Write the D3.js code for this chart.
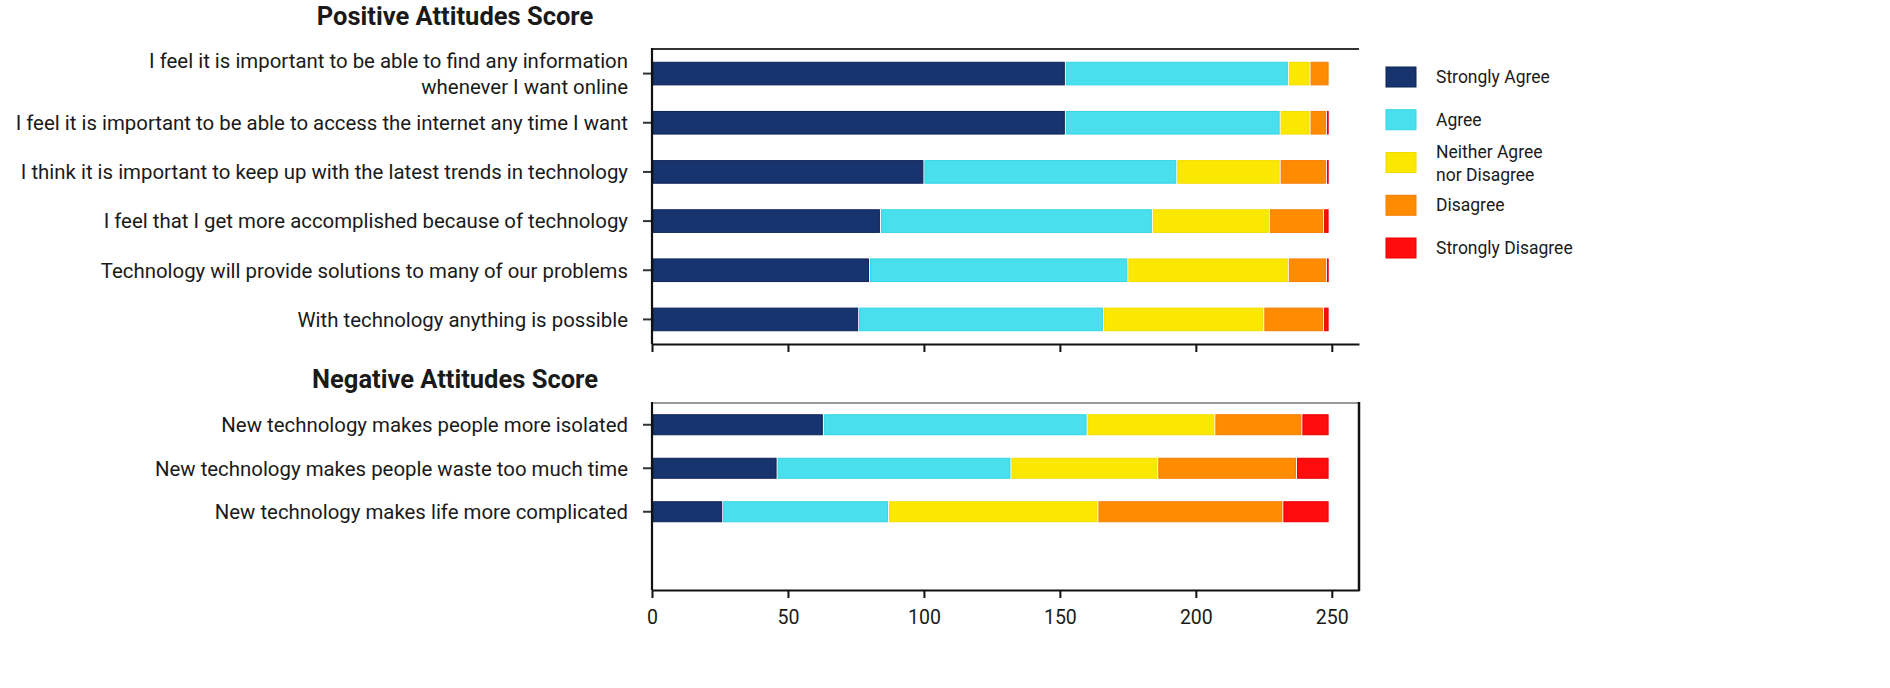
<!DOCTYPE html>
<html><head><meta charset="utf-8">
<script src="https://cdn.jsdelivr.net/npm/d3@7"></script>
<style>
html,body{margin:0;padding:0;background:#fff;}
svg text{font-family:Roboto,"Noto Sans",sans-serif;fill:#1a1a1a;}
</style></head>
<body>
<svg id="chart" width="1890" height="688"></svg>
<script>
// ---------- data ----------
const seriesNames = ["Strongly Agree", "Agree", "Neither Agree nor Disagree", "Disagree", "Strongly Disagree"];
const seriesColors = ["#17346f", "#4adfed", "#fbe800", "#ff8b00", "#ff0d0d"];
const seriesStrokes = ["#0d2258", "#2fd5e6", "#f2dc00", "#f57f00", "#e60000"];

const posCategories = [
  "I feel it is important to be able to find any information|whenever I want online",
  "I feel it is important to be able to access the internet any time I want",
  "I think it is important to keep up with the latest trends in technology",
  "I feel that I get more accomplished because of technology",
  "Technology will provide solutions to many of our problems",
  "With technology anything is possible"
];
const posStronglyAgree = [152, 152, 100, 84, 80, 76];
const posAgree         = [82, 79, 93, 100, 95, 90];
const posNeither       = [8, 11, 38, 43, 59, 59];
const posDisagree      = [7, 6, 17, 20, 14, 22];
const posStronglyDis   = [0, 1, 1, 2, 1, 2];

const negCategories = [
  "New technology makes people more isolated",
  "New technology makes people waste too much time",
  "New technology makes life more complicated"
];
const negStronglyAgree = [63, 46, 26];
const negAgree         = [97, 86, 61];
const negNeither       = [47, 54, 77];
const negDisagree      = [32, 51, 68];
const negStronglyDis   = [10, 12, 17];

const xTicks = [0, 50, 100, 150, 200, 250];
const titles = ["Positive Attitudes Score", "Negative Attitudes Score"];

// ---------- build ----------
const svg = d3.select("#chart");
const x = d3.scaleLinear().domain([0, 260]).range([652, 1359]);

function buildRows(cats, arrs) {
  return cats.map((c, i) => {
    let acc = 0;
    const segs = arrs.map((a, k) => {
      const s = {k, x0: acc, x1: acc + a[i]};
      acc += a[i];
      return s;
    });
    return {cat: c, segs};
  });
}

function panel(cats, arrs, top, bottom, rowsBottom, title, titleY, showLabels, topColor, topWidth) {
  const y = d3.scaleBand().domain(cats).range([top, rowsBottom])
    .paddingInner(0.54).paddingOuter(0.27);
  const rows = buildRows(cats, arrs);
  const g = svg.append("g");

  // frame top line
  g.append("line").attr("x1", x(0)).attr("x2", x(260)).attr("y1", top).attr("y2", top)
    .attr("stroke", topColor).attr("stroke-width", topWidth);

  // bars
  rows.forEach(r => {
    g.selectAll(null).data(r.segs.filter(s => s.x1 > s.x0)).join("rect")
      .attr("x", s => x(s.x0) + 1)
      .attr("width", s => Math.max(0.8, x(s.x1) - x(s.x0) - 2))
      .attr("y", y(r.cat))
      .attr("height", y.bandwidth())
      .attr("fill", s => seriesColors[s.k])
      .attr("stroke", s => seriesStrokes[s.k])
      .attr("stroke-width", 1);
  });

  // y axis
  const yAxis = d3.axisLeft(y).tickSize(9).tickSizeOuter(0).tickPadding(10).tickFormat("");
  const ya = g.append("g").attr("transform", `translate(${x(0)},0)`).call(yAxis);
  ya.select(".domain").remove();
  ya.selectAll(".tick line").attr("stroke", "#333").attr("stroke-width", 2);
  g.append("line").attr("x1", x(0)).attr("x2", x(0)).attr("y1", top - 1).attr("y2", bottom)
    .attr("stroke", "#111").attr("stroke-width", 2.2);

  // category labels (multi-line support)
  rows.forEach(r => {
    const lines = r.cat.split("|");
    const t = g.append("text").attr("text-anchor", "end")
      .attr("x", x(0) - 24)
      .attr("y", y(r.cat) + y.bandwidth() / 2)
      .style("font-size", "20.4px");
    lines.forEach((ln, i) => {
      t.append("tspan").attr("x", x(0) - 24)
        .attr("dy", i === 0 ? `${(0.36 - (lines.length - 1) * 0.64)}em` : "1.3em")
        .text(ln);
    });
  });

  // x axis
  const xAxis = d3.axisBottom(x).tickValues(xTicks).tickSize(8).tickSizeOuter(0).tickPadding(12)
    .tickFormat(showLabels ? d3.format("d") : "");
  const xa = g.append("g").attr("transform", `translate(0,${bottom})`).call(xAxis);
  xa.select(".domain").attr("stroke", "#111").attr("stroke-width", 2);
  xa.selectAll(".tick line").attr("stroke", "#111").attr("stroke-width", 2);
  xa.selectAll(".tick text").style("font-size", "19.5px").attr("fill", "#1a1a1a")
    .style("font-family", "Roboto, sans-serif");

  // title
  svg.append("text").attr("x", 455).attr("y", titleY).attr("text-anchor", "middle")
    .style("font-size", "25.5px").style("font-weight", "bold").text(title);
  return {y};
}

panel(posCategories, [posStronglyAgree, posAgree, posNeither, posDisagree, posStronglyDis],
  49, 344, 344, titles[0], 25, false, "#333", 2);
panel(negCategories, [negStronglyAgree, negAgree, negNeither, negDisagree, negStronglyDis],
  403, 590, 533.5, titles[1], 388, true, "#777", 1.5);

// right border for negative panel
svg.append("line").attr("x1", x(260)).attr("x2", x(260)).attr("y1", 402).attr("y2", 591)
  .attr("stroke", "#111").attr("stroke-width", 2.5);

// ---------- legend ----------
const legendY = d3.scalePoint().domain(seriesNames).range([77, 248]);
const lg = svg.append("g");
seriesNames.forEach((n, i) => {
  const cy = legendY(n);
  lg.append("rect").attr("x", 1386).attr("y", cy - 10).attr("width", 30).attr("height", 20)
    .attr("fill", seriesColors[i]).attr("stroke", seriesStrokes[i]).attr("stroke-width", 1);
  const parts = n === "Neither Agree nor Disagree" ? ["Neither Agree", "nor Disagree"] : [n];
  const t = lg.append("text").attr("x", 1436).attr("y", cy).style("font-size", "17.5px");
  parts.forEach((p, j) => {
    t.append("tspan").attr("x", 1436)
      .attr("dy", j === 0 ? `${0.35 - (parts.length - 1) * 0.6}em` : "1.3em").text(p);
  });
});
</script>
</body></html>
